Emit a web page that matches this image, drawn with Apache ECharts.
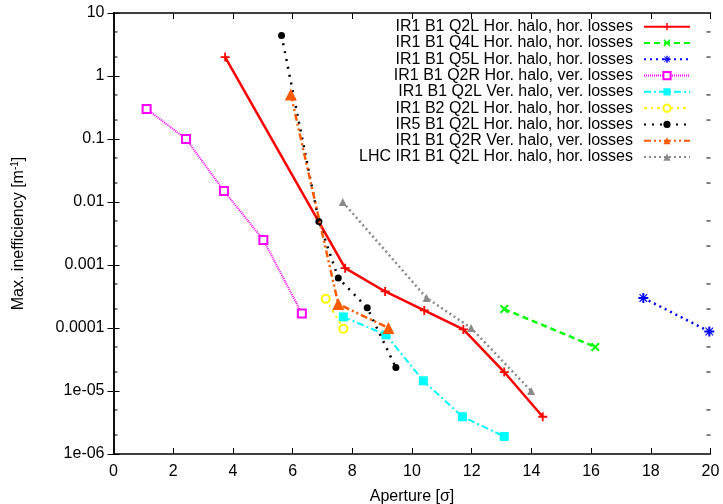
<!DOCTYPE html>
<html><head><meta charset="utf-8">
<script src="https://cdn.jsdelivr.net/npm/echarts@6/dist/echarts.min.js"></script>
<style>html,body{margin:0;padding:0;background:#fff}#c{width:723px;height:504px}</style>
</head><body><div id="c"></div>
<script>
const seriesNames = [
  'IR1 B1 Q2L Hor. halo, hor. losses',
  'IR1 B1 Q4L Hor. halo, hor. losses',
  'IR1 B1 Q5L Hor. halo, hor. losses',
  'IR1 B1 Q2R Hor. halo, ver. losses',
  'IR1 B1 Q2L Ver. halo, ver. losses',
  'IR1 B2 Q2L Hor. halo, hor. losses',
  'IR5 B1 Q2L Hor. halo, hor. losses',
  'IR1 B1 Q2R Ver. halo, ver. losses',
  'LHC IR1 B1 Q2L Hor. halo, hor. losses'
];
const xRed = [3.74, 7.76, 9.1, 10.41, 11.72, 13.09, 14.38];
const yRed = [2, 0.00089, 0.00038, 0.00019, 0.000095, 0.00002, 0.0000039];
const xGreen = [13.09, 16.14];
const yGreen = [0.0002, 0.00005];
const xBlue = [17.75, 19.96];
const yBlue = [0.0003, 0.000088];
const xMagenta = [1.11, 2.43, 3.7, 5.02, 6.31];
const yMagenta = [0.3, 0.1, 0.015, 0.0025, 0.00017];
const xCyan = [7.7, 9.13, 10.38, 11.69, 13.09];
const yCyan = [0.00015, 0.000078, 0.0000145, 0.0000039, 0.0000019];
const xYellow = [7.11, 7.7];
const yYellow = [0.00029, 0.0000975];
const xBlack = [5.63, 6.88, 7.53, 8.5, 9.46];
const yBlack = [4.4, 0.0049, 0.00062, 0.00021, 0.0000235];
const xOrange = [5.94, 7.53, 9.21];
const yOrange = [0.51, 0.00024, 0.0001];
const xGray = [7.68, 10.49, 11.98, 13.99];
const yGray = [0.01, 0.0003, 0.0001, 0.00001];
const yTickLabels = {'-6':'1e-06','-5':'1e-05','-4':'0.0001','-3':'0.001','-2':'0.01','-1':'0.1','0':'1','1':'10'};
const minorTickValues = [];
for (let k = -6; k <= 0; k++) { minorTickValues.push(2 * Math.pow(10, k), 5 * Math.pow(10, k)); }

const zip = (xs, ys) => xs.map((x, i) => [x, ys[i]]);
const PLUS = 'path://M4,0H6V4H10V6H6V10H4V6H0V4H4Z';
const CROSS = 'path://M0,1.6L1.6,0L5,3.4L8.4,0L10,1.6L6.6,5L10,8.4L8.4,10L5,6.6L1.6,10L0,8.4L3.4,5Z';
const STAR = 'path://M4,0H6V3.2L8.4,0.8L9.2,1.6L6.8,4H10V6H6.8L9.2,8.4L8.4,9.2L6,6.8V10H4V6.8L1.6,9.2L0.8,8.4L3.2,6H0V4H3.2L0.8,1.6L1.6,0.8L4,3.2Z';

const styles = [
  {c:'#ff0000', w:2.5, t:'solid', s:PLUS, sz:9, d:zip(xRed,yRed)},
  {c:'#00ff00', w:2.5, t:[6,4], s:CROSS, sz:9, d:zip(xGreen,yGreen)},
  {c:'#0000ff', w:2.5, t:[2,4], s:STAR, sz:10, d:zip(xBlue,yBlue)},
  {c:'#ff00ff', w:2, t:[1,1], s:'emptyRect', sz:8, bw:3, d:zip(xMagenta,yMagenta)},
  {c:'#00ffff', w:2, t:[7,3,2,3], s:'rect', sz:9, d:zip(xCyan,yCyan)},
  {c:'#ffff00', w:2, t:[3,4,2,4], s:'emptyCircle', sz:8, bw:3.5, d:zip(xYellow,yYellow)},
  {c:'#000000', w:2.5, t:[2,6], s:'circle', sz:7, d:zip(xBlack,yBlack)},
  {c:'#ff5a00', w:2.5, t:[7,3,2,3,2,3], s:'triangle', sz:12, d:zip(xOrange,yOrange)},
  {c:'#8a8a8a', w:2.5, t:[2,3], s:'triangle', sz:8, d:zip(xGray,yGray)}
];

const series = styles.map((st, i) => ({
  name: seriesNames[i], type: 'line', data: st.d, symbol: st.s, symbolSize: st.sz,
  showAllSymbol: true, animation: false,
  lineStyle: {color: st.c, width: st.w, type: st.t},
  itemStyle: {color: st.c, borderColor: st.c, borderWidth: st.bw || 0},
  emphasis: {disabled: true}, z: 3 + i
}));

series.push({
  type: 'custom', silent: true, animation: false, xAxisIndex: 0, yAxisIndex: 0, clip: false,
  data: minorTickValues.map(v => [0, v]),
  renderItem: function (params, api) {
    const v = api.value(1);
    const pL = api.coord([0, v]);
    const pR = api.coord([20, v]);
    return {type: 'group', children: [
      {type: 'line', shape: {x1: pL[0], y1: pL[1], x2: pL[0] + 4, y2: pL[1]}, style: {stroke: '#000', lineWidth: 1}},
      {type: 'line', shape: {x1: pR[0], y1: pR[1], x2: pR[0] - 4, y2: pR[1]}, style: {stroke: '#000', lineWidth: 1}}
    ]};
  }
});

const font = 'Liberation Sans';
const fs = 16;
const chart = echarts.init(document.getElementById('c'), null, {renderer: 'canvas'});
chart.setOption({
  animation: false,
  backgroundColor: '#fff',
  textStyle: {fontFamily: font},
  grid: {left: 113.5, right: 12.5, top: 13, bottom: 50, containLabel: false, outerBoundsMode: 'none'},
  legend: {
    data: seriesNames, orient: 'vertical', right: 32, top: 18.5, padding: 0,
    align: 'right', itemWidth: 46, itemHeight: 9, itemGap: 0,
    textStyle: {fontFamily: font, fontSize: fs, lineHeight: 16.3, color: '#000', padding: [0, 6, 0, 0]},
    selectedMode: false
  },
  xAxis: [{
    type: 'value', min: 0, max: 20, interval: 2, position: 'bottom',
    name: 'Aperture [σ]', nameLocation: 'middle', nameGap: 35,
    nameTextStyle: {fontFamily: font, fontSize: fs, color: '#000'},
    axisLine: {lineStyle: {color: '#000', width: 1.5}},
    axisTick: {inside: true, length: 6, lineStyle: {color: '#000'}},
    axisLabel: {fontFamily: font, fontSize: fs, color: '#000', margin: 10},
    splitLine: {show: false}
  }, {
    type: 'value', min: 0, max: 20, interval: 2, position: 'top',
    axisLine: {lineStyle: {color: '#000', width: 1.5}},
    axisTick: {inside: true, length: 6, lineStyle: {color: '#000'}},
    axisLabel: {show: false}, splitLine: {show: false}
  }],
  yAxis: [{
    type: 'log', logBase: 10, min: 1e-6, max: 10, position: 'left',
    name: 'Max. inefficiency [m{sup|-1}]', nameLocation: 'middle', nameGap: 86, nameRotate: 90,
    nameTextStyle: {fontFamily: font, fontSize: fs, color: '#000',
      rich: {sup: {fontFamily: font, fontSize: 10, color: '#000', verticalAlign: 'top', padding: [0, 0, 7, 0]}}},
    axisLine: {lineStyle: {color: '#000', width: 1.5}},
    axisTick: {inside: true, length: 6, lineStyle: {color: '#000'}},
    axisLabel: {fontFamily: font, fontSize: fs, color: '#000', margin: 9,
      formatter: v => yTickLabels[String(Math.round(Math.log10(v)))]},
    splitLine: {show: false}
  }, {
    type: 'log', logBase: 10, min: 1e-6, max: 10, position: 'right',
    axisLine: {lineStyle: {color: '#000', width: 1.5}},
    axisTick: {inside: true, length: 6, lineStyle: {color: '#000'}},
    axisLabel: {show: false}, splitLine: {show: false}
  }],
  series: series
});
</script></body></html>
